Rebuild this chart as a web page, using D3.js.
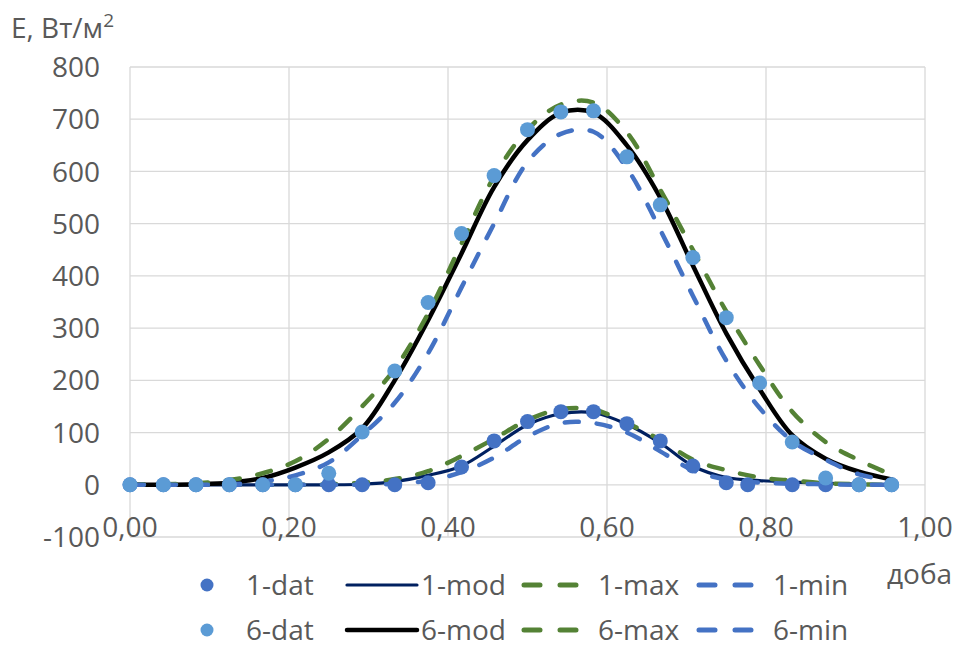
<!DOCTYPE html>
<html>
<head>
<meta charset="utf-8">
<script src="https://cdn.jsdelivr.net/npm/d3@7"></script>
<style>
  body { margin: 0; background: #fff; }
  text { font-family: "Open Sans", sans-serif; fill: #595959; }
</style>
</head>
<body>
<div id="chart"></div>
<script>
// x values (fraction of a day)
const xDay = [0.000, 0.042, 0.083, 0.125, 0.167, 0.208, 0.250, 0.292, 0.333, 0.375, 0.417, 0.458,
              0.500, 0.542, 0.583, 0.625, 0.667, 0.708, 0.750, 0.792, 0.833, 0.875, 0.917, 0.958];
const x1dat = [0.000, 0.042, 0.083, 0.125, 0.167, 0.208, 0.250, 0.292, 0.333, 0.375, 0.417, 0.458,
               0.500, 0.542, 0.583, 0.625, 0.667, 0.708, 0.750, 0.777, 0.833, 0.875, 0.917, 0.958];

// series values, W/m2
const y1dat = [0, 0, 0, 0, 0, 0, 0, 0, 0, 4, 34, 84, 121, 140, 140, 117, 84, 36, 4, 0, 0, 0, 0, 0];
const y1mod = [0, 0, 0, 0, 0, 0, 0, 1, 6, 18, 36, 74, 115, 136, 138, 116, 80, 36, 14, 8, 5, 3, 1, 0];
const y1max = [0, 0, 0, 0, 0, 0, 1, 4, 11, 26, 55, 88, 124, 145, 144, 118, 86, 48, 28, 14, 8, 3, 1, 0];
const y1min = [0, 0, 0, 0, 0, 0, 0, 0, 2, 8, 24, 52, 92, 118, 118, 100, 64, 28, 10, 4, 2, 1, 0, 0];

const y6dat = [0, 0, 0, 0, 0, 0, 22, 101, 218, 349, 481, 592, 680, 714, 716, 628, 536, 435, 320, 195, 82, 13, 0, 0];
const y6mod = [0, 0, 1, 4, 13, 33, 62, 108, 200, 315, 443, 570, 660, 712, 712, 650, 550, 420, 290, 183, 95, 50, 25, 10];
const y6max = [0, 1, 3, 9, 22, 45, 88, 150, 222, 328, 462, 590, 680, 728, 732, 675, 565, 450, 332, 229, 140, 82, 47, 19];
const y6min = [0, 0, 0, 1, 6, 18, 43, 95, 157, 252, 378, 500, 618, 672, 676, 606, 488, 362, 238, 147, 84, 48, 20, 8];

// axis ticks
const xTicks = [0, 0.2, 0.4, 0.6, 0.8, 1.0];
const yTicks = [-100, 0, 100, 200, 300, 400, 500, 600, 700, 800];

const W = 957, H = 650;
const plot = {left: 130, right: 925, top: 67, bottom: 537};

const svg = d3.select("#chart").append("svg")
    .attr("width", W)
    .attr("height", H);

const x = d3.scaleLinear().domain([0, 1]).range([plot.left, plot.right]);
const y = d3.scaleLinear().domain([-100, 800]).range([plot.bottom, plot.top]);

// gridlines
svg.append("g").selectAll("line.h")
    .data(yTicks).enter().append("line")
    .attr("x1", plot.left).attr("x2", plot.right)
    .attr("y1", d => y(d)).attr("y2", d => y(d))
    .attr("stroke", "#d9d9d9").attr("stroke-width", 1.3);
svg.append("g").selectAll("line.v")
    .data(xTicks).enter().append("line")
    .attr("x1", d => x(d)).attr("x2", d => x(d))
    .attr("y1", plot.top).attr("y2", plot.bottom)
    .attr("stroke", "#d9d9d9").attr("stroke-width", 1.3);

// tick labels
svg.append("g").selectAll("text")
    .data(yTicks).enter().append("text")
    .attr("x", 100)
    .attr("y", d => y(d))
    .attr("dy", "0.36em")
    .attr("text-anchor", "end")
    .attr("font-size", 28)
    .text(d => d);

const fmt = d => d3.format(".2f")(d).replace(".", ",");
svg.append("g").selectAll("text")
    .data(xTicks).enter().append("text")
    .attr("x", d => x(d))
    .attr("y", 537)
    .attr("text-anchor", "middle")
    .attr("font-size", 28)
    .text(fmt);

// axis titles
const yTitle = svg.append("text").attr("x", 11).attr("y", 38).attr("font-size", 28);
yTitle.append("tspan").text("E, Вт/м");
yTitle.append("tspan").attr("font-size", 19).attr("dy", -11).text("2");
svg.append("text").attr("x", 887).attr("y", 584).attr("font-size", 28).text("доба");

// series config
const lineSeries = [
    {name: "1-mod", xs: xDay, ys: y1mod, color: "#002060", width: 3.2, dash: null},
    {name: "1-max", xs: xDay, ys: y1max, color: "#548235", width: 4.5, dash: "14,18"},
    {name: "1-min", xs: xDay, ys: y1min, color: "#4472c4", width: 4.5, dash: "14,18"},
    {name: "6-mod", xs: xDay, ys: y6mod, color: "#000000", width: 4.5, dash: null},
    {name: "6-max", xs: xDay, ys: y6max, color: "#548235", width: 4.5, dash: "14,18"},
    {name: "6-min", xs: xDay, ys: y6min, color: "#4472c4", width: 4.5, dash: "14,18"}
];
const dotSeries = [
    {name: "1-dat", xs: x1dat, ys: y1dat, color: "#4472c4"},
    {name: "6-dat", xs: xDay, ys: y6dat, color: "#5b9bd5"}
];

const line = d3.line()
    .curve(d3.curveCatmullRom.alpha(0.5))
    .x(d => x(d[0]))
    .y(d => y(d[1]));

lineSeries.forEach(s => {
    svg.append("path")
        .datum(d3.zip(s.xs, s.ys))
        .attr("d", line)
        .attr("fill", "none")
        .attr("stroke", s.color)
        .attr("stroke-width", s.width)
        .attr("stroke-linecap", "round")
        .attr("stroke-dasharray", s.dash);
});

dotSeries.forEach(s => {
    svg.append("g").selectAll("circle")
        .data(d3.zip(s.xs, s.ys)).enter().append("circle")
        .attr("cx", d => x(d[0]))
        .attr("cy", d => y(d[1]))
        .attr("r", 7.5)
        .attr("fill", s.color);
});

// legend, two rows
const legendRows = [
    [dotSeries[0], lineSeries[0], lineSeries[1], lineSeries[2]],
    [dotSeries[1], lineSeries[3], lineSeries[4], lineSeries[5]]
];
const rowY = [585, 630];
const sampleX = [[197, 217], [347, 417], [522, 580], [697, 755]];
const labelX = [246, 421, 598, 773];

legendRows.forEach((row, r) => {
    const g = svg.append("g").attr("transform", "translate(0," + rowY[r] + ")");
    row.forEach((s, i) => {
        if (s.width === undefined) {
            g.append("circle")
                .attr("cx", (sampleX[i][0] + sampleX[i][1]) / 2)
                .attr("cy", 0)
                .attr("r", 6.5)
                .attr("fill", s.color);
        } else {
            g.append("line")
                .attr("x1", sampleX[i][0] + (s.dash ? 2 : 0)).attr("x2", sampleX[i][1])
                .attr("y1", 0).attr("y2", 0)
                .attr("stroke", s.color)
                .attr("stroke-width", s.dash ? 5 : s.width)
                .attr("stroke-linecap", "round")
                .attr("stroke-dasharray", s.dash ? "16,20" : null);
        }
        g.append("text")
            .attr("x", labelX[i])
            .attr("y", 0)
            .attr("dy", "0.36em")
            .attr("font-size", 28)
            .text(s.name);
    });
});
</script>
</body>
</html>
